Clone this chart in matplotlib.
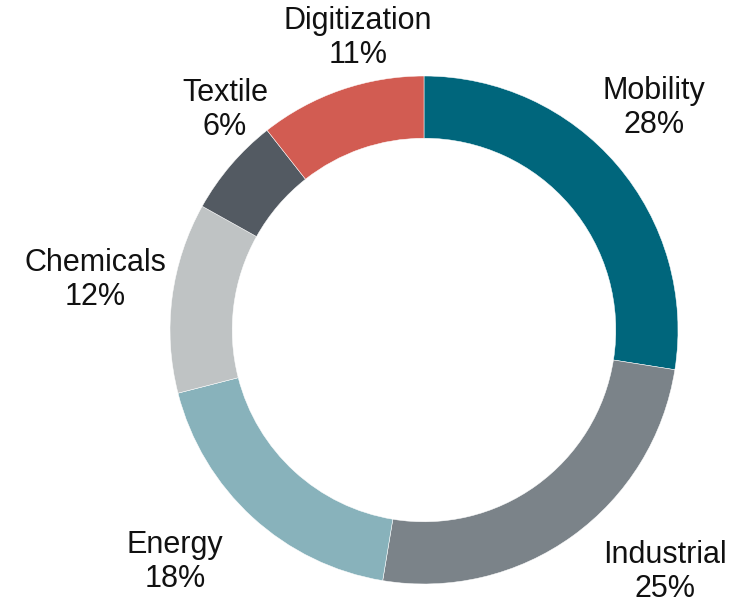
import matplotlib
matplotlib.use("Agg")
import matplotlib.pyplot as plt

categories = ["Mobility", "Industrial", "Energy", "Chemicals", "Textile", "Digitization"]
# wedge sizes as drawn in the picture
values = [27.5, 25.1, 18.4, 12.1, 6.3, 10.6]
# percentages as printed in the labels
label_pct = [28, 25, 18, 12, 6, 11]
colors = ["#00667C", "#7B8389", "#88B2BB", "#BFC3C4", "#535A62", "#D25C52"]
# label block centres in pixel coordinates (x, y from top)
label_pos = [(654, 108), (665, 572), (175, 562), (95, 280), (225, 110), (358, 38)]

W, H = 739, 605
fig = plt.figure(figsize=(W / 100, H / 100), dpi=100)
ax = fig.add_axes([0, 0, 1, 1])

cx, cy, R = 424, H - 330, 254
ax.pie(values, colors=colors, startangle=90, counterclock=False,
       center=(cx, cy), radius=R, frame=True,
       wedgeprops=dict(width=R * 0.245, edgecolor="white", linewidth=0.35))
ax.set_xlim(0, W)
ax.set_ylim(0, H)
ax.set_aspect("equal")
ax.axis("off")

for cat, p, (lx, ly) in zip(categories, label_pct, label_pos):
    ax.text(lx, H - ly, f"{cat}\n{p}%", ha="center", va="center",
            multialignment="center", fontsize=22, linespacing=1.15,
            family="Liberation Sans", color="#111111")

fig.savefig("out.png", dpi=100)
